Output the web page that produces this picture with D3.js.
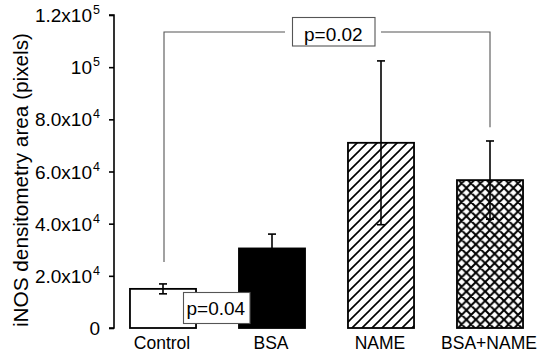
<!DOCTYPE html>
<html>
<head>
<meta charset="utf-8">
<script src="https://cdn.jsdelivr.net/npm/d3@7"></script>
<style>
  html, body { margin: 0; padding: 0; background: #fff; }
  svg { display: block; font-family: "Liberation Sans", Arial, Helvetica, sans-serif; }
</style>
</head>
<body>
<svg id="chart" width="550" height="355"></svg>
<script>
// ---- data ----
const categories = ["Control", "BSA", "NAME", "BSA+NAME"];
const means = [15000, 30500, 71000, 56700];
const errors = [1900, 5500, 31400, 15000];
const tickValues = [0, 20000, 40000, 60000, 80000, 100000, 120000];
const tickMantissa = ["0", "2.0x10", "4.0x10", "6.0x10", "8.0x10", "10", "1.2x10"];
const tickExponent = ["", "4", "4", "4", "4", "5", "5"];
const yTitle = "iNOS densitometry area (pixels)";
const bracketLevel = 113500;
const bracketLeftEnd = 25300;
const bracketRightEnd = 77000;
const pTop = "p=0.02";
const pBottom = "p=0.04";

// ---- layout ----
const svg = d3.select("#chart");
const y = d3.scaleLinear().domain([0, 120000]).range([328, 15]);
const x = d3.scaleBand().domain(categories).range([108.5, 544.5])
  .paddingInner(0.394).paddingOuter(0.197);
const axisX = 114;

// patterns
const defs = svg.append("defs");
const diag = defs.append("pattern").attr("id", "diag")
  .attr("patternUnits", "userSpaceOnUse").attr("width", 10).attr("height", 10);
diag.append("path")
  .attr("d", "M-2.5,2.5 L2.5,-2.5 M0,10 L10,0 M7.5,12.5 L12.5,7.5")
  .attr("stroke", "#000").attr("stroke-width", 1.6);
const cross = defs.append("pattern").attr("id", "cross")
  .attr("patternUnits", "userSpaceOnUse").attr("width", 9.4).attr("height", 9.4)
  .attr("x", x("BSA+NAME"));
cross.append("path")
  .attr("d", "M-2.35,2.35 L2.35,-2.35 M0,9.4 L9.4,0 M7.05,11.75 L11.75,7.05 M-2.35,7.05 L2.35,11.75 M0,0 L9.4,9.4 M7.05,-2.35 L11.75,2.35")
  .attr("stroke", "#000").attr("stroke-width", 2);

const fills = ["#fff", "#000", "url(#diag)", "url(#cross)"];

// y axis
const yAxis = d3.axisLeft(y).tickValues(tickValues).tickSize(5).tickFormat("");
const gAxis = svg.append("g").attr("transform", `translate(${axisX},0)`).call(yAxis);
gAxis.select(".domain").attr("stroke", "#000").attr("stroke-width", 1.6)
  .attr("d", `M-5,${y(120000)}H0V${y(0)}H-5`);
gAxis.selectAll(".tick line").attr("stroke", "#000").attr("stroke-width", 1.6);

// tick labels with superscripts
const labG = svg.append("g").attr("fill", "#000");
tickValues.forEach((v, i) => {
  const hasExp = !!tickExponent[i];
  labG.append("text")
    .attr("x", hasExp ? 92 : 100).attr("y", y(v) + 7)
    .attr("text-anchor", "end")
    .style("font-size", "19px")
    .text(tickMantissa[i]);
  if (hasExp) {
    labG.append("text").attr("x", 93).attr("y", y(v) - 1)
      .style("font-size", "12.5px").text(tickExponent[i]);
  }
});

// y title
svg.append("text")
  .attr("transform", `translate(28,${180}) rotate(-90)`)
  .attr("text-anchor", "middle")
  .style("font-size", "19.5px")
  .attr("textLength", 294).attr("lengthAdjust", "spacingAndGlyphs")
  .attr("fill", "#000")
  .text(yTitle);

// bars
svg.append("g").selectAll("rect").data(categories).join("rect")
  .attr("x", d => x(d))
  .attr("y", (d, i) => y(means[i]))
  .attr("width", x.bandwidth())
  .attr("height", (d, i) => y(0) - y(means[i]))
  .attr("fill", (d, i) => fills[i])
  .attr("stroke", "#000").attr("stroke-width", 1.8);

// error bars
const cap = 4;
const eg = svg.append("g").attr("stroke", "#000").attr("stroke-width", 1.6);
categories.forEach((c, i) => {
  const cx = x(c) + x.bandwidth() / 2;
  const top = y(means[i] + errors[i]);
  const bot = y(means[i] - errors[i]);
  eg.append("line").attr("x1", cx).attr("x2", cx).attr("y1", top).attr("y2", bot);
  eg.append("line").attr("x1", cx - cap).attr("x2", cx + cap).attr("y1", top).attr("y2", top);
  eg.append("line").attr("x1", cx - cap).attr("x2", cx + cap).attr("y1", bot).attr("y2", bot);
});

// bracket annotation
const lx = x("Control") + x.bandwidth() / 2 + 1;
const rx = x("BSA+NAME") + x.bandwidth() / 2;
const by = y(bracketLevel);
const ag = svg.append("g").attr("stroke", "#555").attr("stroke-width", 1.1).attr("fill", "none");
ag.append("path").attr("d", `M${lx},${y(bracketLeftEnd)}V${by}H285`);
ag.append("path").attr("d", `M381,${by}H${rx}V${y(bracketRightEnd)}`);

// p-value boxes
function pBox(bx, byTop, bw, bh, tx, ty, label) {
  svg.append("rect").attr("x", bx).attr("y", byTop).attr("width", bw).attr("height", bh)
    .attr("fill", "#fff").attr("stroke", "#555").attr("stroke-width", 1.1);
  svg.append("text").attr("x", tx).attr("y", ty).style("font-size", "19px")
    .attr("fill", "#000").text(label);
}
pBox(292.5, 17.5, 82.5, 28.5, 304, 41, pTop);
pBox(183.5, 292.5, 66.5, 31, 186.5, 315, pBottom);

// category labels
svg.append("g").selectAll("text").data(categories).join("text")
  .attr("x", d => x(d) + x.bandwidth() / 2 - 1)
  .attr("y", 348.5)
  .attr("text-anchor", "middle")
  .style("font-size", "17.5px")
  .attr("fill", "#000")
  .text(d => d);
</script>
</body>
</html>
